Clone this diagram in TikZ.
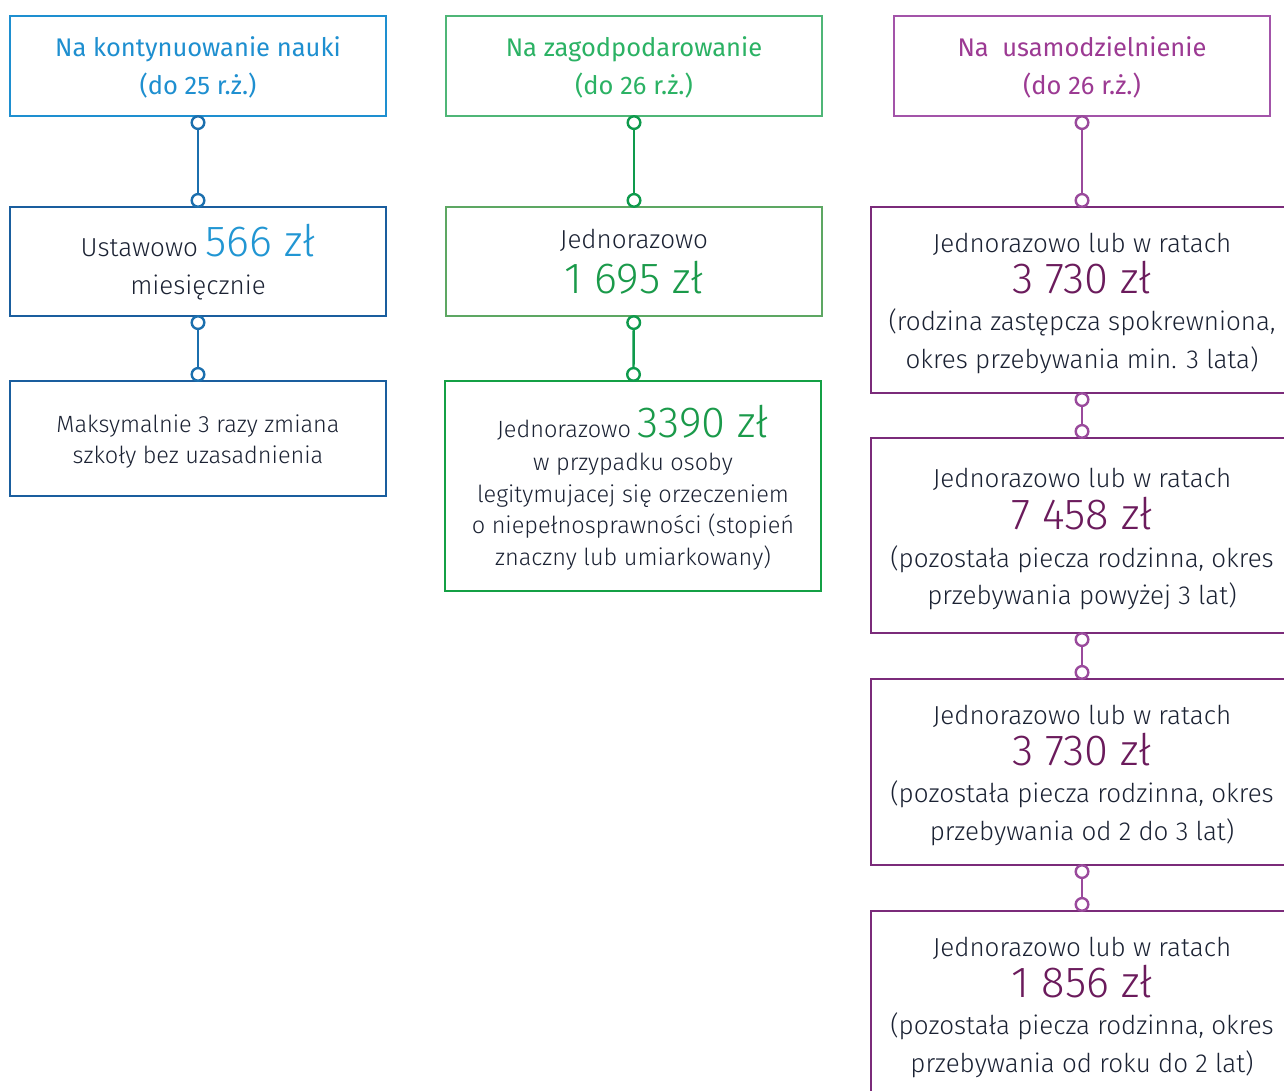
\documentclass[tikz,border=0pt]{standalone}
\usepackage{fontspec}
\setmainfont{Fira Sans}[UprightFont=* Light]
\newfontfamily\tytul{Fira Sans}
\usetikzlibrary{arrows.meta}
\definecolor{ink}{HTML}{1B2233}
\definecolor{blueT}{HTML}{1E8FD0}
\definecolor{blueB}{HTML}{1A5E9E}
\definecolor{blueL}{HTML}{1B6FAE}
\definecolor{blueN}{HTML}{2196D3}
\definecolor{greenT}{HTML}{2BB264}
\definecolor{greenA}{HTML}{4FB677}
\definecolor{greenB}{HTML}{5DA763}
\definecolor{greenC}{HTML}{14A045}
\definecolor{greenL}{HTML}{0E9A4C}
\definecolor{greenN}{HTML}{1A9A4A}
\definecolor{purpT}{HTML}{9C3A93}
\definecolor{purpA}{HTML}{A354A9}
\definecolor{purpB}{HTML}{7B2B7A}
\definecolor{purpL}{HTML}{9A4A9C}
\definecolor{purpN}{HTML}{6B1B5C}
% amount in large digits
\newcommand{\kwota}[2]{{\color{#1}\fontsize{43.5}{40}\selectfont #2}}
% box content: height, width, lines
\newcommand{\pole}[3]{\begin{minipage}[c][#1][t]{#2}\centering\offinterlineskip#3\end{minipage}}
% one line: baseline gap, text
\newcommand{\wrs}[2]{\par\vspace*{#1}\smash{#2}}

\begin{document}
\begin{tikzpicture}[x=1pt,y=-1pt,
	box/.style={draw, line width=2.2pt, fill=white, inner sep=0pt,
		text=ink, font=\fontsize{26}{38}\selectfont},
	titlebox/.style={box, font=\tytul\fontsize{25.5}{37}\selectfont},
	smallbox/.style={box, font=\fontsize{23.5}{32}\selectfont},
	link/.style={line width=2.4pt, shorten <=-2pt, shorten >=-2pt,
		{Circle[fill=white,length=15pt,width=15pt]}-{Circle[fill=white,length=15pt,width=15pt]}}]
	%%%%% START %%%%%
	
	\useasboundingbox (0,0) rectangle (1284,1091);
	\clip (0,0) rectangle (1284,1091);
	
	% kontynuowanie nauki
	\node[titlebox, draw=blueT, text=blueT] (nauka) at (198,66)
		{\pole{100pt}{376pt}{\wrs{41pt}{Na kontynuowanie nauki}\wrs{38pt}{(do 25 r.ż.)}}};
	\node[box, draw=blueB] (ustawowo) at (198,261.5)
		{\pole{109pt}{376pt}{\wrs{50pt}{Ustawowo \kwota{blueN}{566 zł}}\wrs{37pt}{miesięcznie}}};
	\node[smallbox, draw=blueB] (szkola) at (198,438.5)
		{\pole{115pt}{376pt}{\wrs{51pt}{Maksymalnie 3 razy zmiana}\wrs{31pt}{szkoły bez uzasadnienia}}};
	\draw[link, blueL] (nauka) -- (ustawowo);
	\draw[link, blueL] (ustawowo) -- (szkola);
	
	% zagospodarowanie
	\node[titlebox, draw=greenA, text=greenT] (zagosp) at (634,66)
		{\pole{100pt}{376pt}{\wrs{41pt}{Na zagodpodarowanie}\wrs{38pt}{(do 26 r.ż.)}}};
	\node[box, draw=greenB] (jednoraz) at (634,261.5)
		{\pole{109pt}{376pt}{\wrs{41pt}{Jednorazowo}\wrs{45pt}{\kwota{greenN}{1 695 zł}}}};
	\node[smallbox, draw=greenC] (orzecz) at (633,486)
		{\pole{210pt}{376pt}{\wrs{56pt}{Jednorazowo \kwota{greenN}{3390 zł}}\wrs{33pt}{w przypadku osoby}%
			\wrs{32pt}{legitymujacej się orzeczeniem}\wrs{31pt}{o niepełnosprawności (stopień}%
			\wrs{32pt}{znaczny lub umiarkowany)}}};
	\draw[link, greenL] (zagosp) -- (jednoraz);
	\draw[link, greenL] (jednoraz) -- (orzecz);
	
	% usamodzielnienie
	\node[titlebox, draw=purpA, text=purpT] (usam) at (1082,66)
		{\pole{100pt}{376pt}{\wrs{41pt}{Na~~usamodzielnienie}\wrs{38pt}{(do 26 r.ż.)}}};
	\node[box, draw=purpB] (spokr) at (1082,300)
		{\pole{186pt}{422pt}{\wrs{45pt}{Jednorazowo lub w ratach}\wrs{41pt}{\kwota{purpN}{3 730 zł}}%
			\wrs{37pt}{(rodzina zastępcza spokrewniona,}\wrs{38pt}{okres przebywania min. 3 lata)}}};
	\node[box, draw=purpB] (pow3) at (1082,535.5)
		{\pole{195pt}{422pt}{\wrs{49pt}{Jednorazowo lub w ratach}\wrs{42pt}{\kwota{purpN}{7 458 zł}}%
			\wrs{38pt}{(pozostała piecza rodzinna, okres}\wrs{37pt}{przebywania powyżej 3 lat)}}};
	\node[box, draw=purpB] (od2) at (1082,772)
		{\pole{186pt}{422pt}{\wrs{45pt}{Jednorazowo lub w ratach}\wrs{41pt}{\kwota{purpN}{3 730 zł}}%
			\wrs{37pt}{(pozostała piecza rodzinna, okres}\wrs{38pt}{przebywania od 2 do 3 lat)}}};
	\node[box, draw=purpB] (od1) at (1082,1004)
		{\pole{186pt}{422pt}{\wrs{45pt}{Jednorazowo lub w ratach}\wrs{41pt}{\kwota{purpN}{1 856 zł}}%
			\wrs{37pt}{(pozostała piecza rodzinna, okres}\wrs{38pt}{przebywania od roku do 2 lat)}}};
	\draw[link, purpL] (usam) -- (spokr);
	\draw[link, purpL] (spokr) -- (pow3);
	\draw[link, purpL] (pow3) -- (od2);
	\draw[link, purpL] (od2) -- (od1);
	
	%%%%% END %%%%%
\end{tikzpicture}
\end{document}
